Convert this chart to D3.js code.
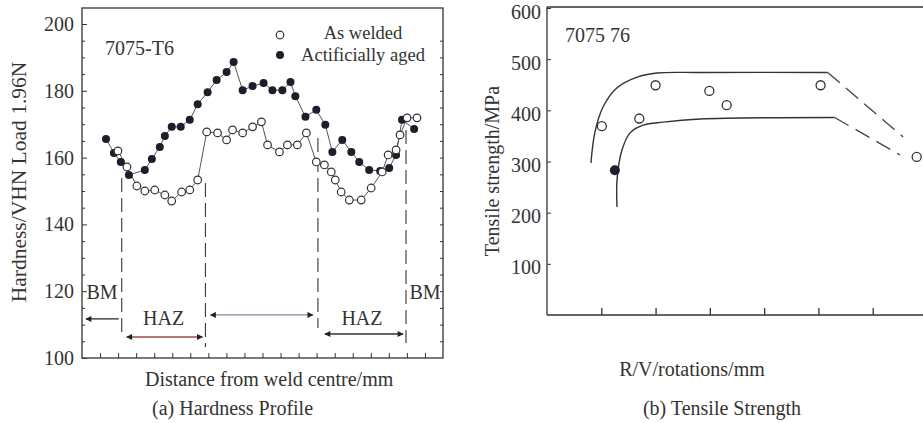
<!DOCTYPE html>
<html>
<head>
<meta charset="utf-8">
<script src="https://cdn.jsdelivr.net/npm/d3@7"></script>
<style>
  html, body { margin: 0; padding: 0; background: #fff; }
  svg { display: block; }
  text { font-family: "Liberation Serif", "DejaVu Serif", serif; fill: #333; }
</style>
</head>
<body>
<svg id="chart" width="923" height="423"></svg>
<script>
// ---------- (a) Hardness profile data ----------
const agedX   = [1.33,1.77,2.15,2.60,3.48,3.87,4.31,4.59,4.97,5.47,5.97,6.41,6.96,7.46,8.01,8.40,8.90,9.45,10.06,10.55,11.10,11.55,11.82,12.38,12.98,13.48,13.87,14.42,14.92,15.36,15.91,16.52,17.02,17.40,17.73,18.40];
const agedY   = [165.6,161.4,158.7,154.8,156.3,159.6,163.2,166.5,169.2,169.2,171.3,176.0,179.6,183.2,185.6,188.6,180.2,181.4,182.3,180.2,180.2,182.6,178.4,172.2,174.3,169.8,161.7,165.3,161.7,158.7,156.3,156.0,156.9,160.8,171.3,168.6];
const weldedX = [1.99,2.49,3.04,3.48,4.03,4.59,4.97,5.52,5.97,6.41,6.91,7.51,8.01,8.34,8.90,9.45,9.94,10.28,10.94,11.38,11.93,12.43,12.98,13.43,13.81,14.03,14.36,14.81,15.47,16.02,16.63,16.96,17.40,17.62,18.01,18.56];
const weldedY = [162.0,157.2,151.5,150.0,150.3,148.8,147.0,149.7,150.3,153.3,167.7,167.4,165.3,168.3,167.4,169.2,170.7,163.8,161.7,163.8,163.8,167.4,158.7,157.8,155.7,153.3,149.7,147.3,147.3,150.9,155.7,160.8,162.3,166.8,171.9,171.9];
const hardTicks = [100,120,140,160,180,200];
const zoneX     = [2.2, 6.84, 13.07, 17.95];          // dashed zone boundaries
const zoneTop   = [153.9, 152.4, 165.9, 168.3];
const zoneBot   = [106.9, 103.3, 109.0, 104.5];
const legendLabels = ["As welded", "Actificially aged"];

// ---------- (b) Tensile strength data ----------
const upperX = [0.81,0.88,1.03,1.29,1.66,2.03,2.82,5.17];
const upperY = [297,356,406,444,465,473,474,474];
const upperDashX = [5.17,6.56], upperDashY = [474,348];
const lowerX = [1.29,1.29,1.38,1.53,1.77,2.14,2.82,5.30];
const lowerY = [211,264,322,356,371,377,383,386];
const lowerDashX = [5.30,6.50], lowerDashY = [386,313];
const openPtX = [1.01,1.70,2.00,2.99,3.31,5.04,6.81];
const openPtY = [369,384,449,438,410,449,309];
const solidPtX = [1.25], solidPtY = [283];
const tensTicks = [100,200,300,400,500,600];

const svg = d3.select("#chart");
const ink = "#333";

// ================= Chart (a) =================
const xA = d3.scaleLinear().domain([0,20]).range([82,443]);
const yA = d3.scaleLinear().domain([100,200]).range([358,24]);

const gA = svg.append("g");
gA.append("rect").attr("x",xA(0)).attr("y",8).attr("width",xA(20)-xA(0)).attr("height",yA(100)-8)
  .attr("fill","none").attr("stroke",ink).attr("stroke-width",1.3);

const yAxisA = gA.append("g").attr("transform",`translate(${xA(0)},0)`)
  .call(d3.axisLeft(yA).tickValues(hardTicks).tickSize(-5).tickSizeOuter(0).tickPadding(8));
yAxisA.select(".domain").remove();
yAxisA.selectAll("text").style("font-size","20px").style("font-family","Liberation Serif").attr("fill","#333");
yAxisA.selectAll("line").attr("stroke",ink);
const minorA = d3.range(105,200,5).filter(v=>v%20!==0);
gA.append("g").attr("transform",`translate(${xA(0)},0)`)
  .call(d3.axisLeft(yA).tickValues(minorA).tickSize(-3).tickFormat(""))
  .call(g=>g.select(".domain").remove()).selectAll("line").attr("stroke",ink);
gA.append("g").attr("transform",`translate(${xA(20)},0)`)
  .call(d3.axisRight(yA).tickValues(d3.range(105,200,5)).tickSize(-3).tickFormat(""))
  .call(g=>g.select(".domain").remove()).selectAll("line").attr("stroke",ink);
gA.append("g").attr("transform",`translate(0,${yA(100)})`)
  .call(d3.axisBottom(xA).tickValues(d3.range(1,20)).tickSize(-5).tickFormat(""))
  .call(g=>g.select(".domain").remove()).selectAll("line").attr("stroke",ink);

gA.append("text").attr("transform",`translate(26,182) rotate(-90)`).attr("text-anchor","middle")
  .style("font-size","21.5px").text("Hardness/VHN Load 1.96N");
gA.append("text").attr("x",145).attr("y",386).style("font-size","20px").text("Distance from weld centre/mm");
gA.append("text").attr("x",152).attr("y",415).style("font-size","20px").text("(a) Hardness Profile");
gA.append("text").attr("x",105).attr("y",55).style("font-size","20px").text("7075-T6");

zoneX.forEach((z,i)=>{
  gA.append("line").attr("x1",xA(z)).attr("x2",xA(z)).attr("y1",yA(zoneTop[i])).attr("y2",yA(zoneBot[i]))
    .attr("stroke","#444").attr("stroke-width",1.2).attr("stroke-dasharray","14,6");
});

const defs = svg.append("defs");
defs.append("marker").attr("id","ah").attr("viewBox","0 0 10 10").attr("refX",9).attr("refY",5)
  .attr("markerWidth",8).attr("markerHeight",6).attr("markerUnits","userSpaceOnUse").attr("orient","auto-start-reverse")
  .append("path").attr("d","M0,0 L10,5 L0,10 Z").attr("fill","#222");
function arrow(x1,x2,y,color,both){
  const l = gA.append("line").attr("x1",x1).attr("x2",x2).attr("y1",y).attr("y2",y)
    .attr("stroke",color).attr("stroke-width",1.4).attr("marker-end","url(#ah)");
  if(both) l.attr("marker-start","url(#ah)");
}
arrow(xA(zoneX[0])-3, xA(0)+4, yA(111.7), "#222", false);
arrow(xA(zoneX[0])+5, xA(zoneX[1])-3, yA(106.3), "#9a4a48", true);
arrow(xA(zoneX[1])+5, xA(zoneX[2])-5, yA(112.9), "#8a84a0", true);
arrow(xA(zoneX[2])+7, xA(zoneX[3])-3, yA(107.2), "#333", true);
gA.append("text").attr("x",102).attr("y",299).attr("text-anchor","middle").style("font-size","20px").text("BM");
gA.append("text").attr("x",425).attr("y",299).attr("text-anchor","middle").style("font-size","20px").text("BM");
gA.append("text").attr("x",(xA(zoneX[0])+xA(zoneX[1]))/2).attr("y",325).attr("text-anchor","middle").style("font-size","20px").text("HAZ");
gA.append("text").attr("x",(xA(zoneX[2])+xA(zoneX[3]))/2).attr("y",325).attr("text-anchor","middle").style("font-size","20px").text("HAZ");

const lineA = d3.line().x(d=>xA(d[0])).y(d=>yA(d[1]));
const aged = agedX.map((x,i)=>[x,agedY[i]]);
const welded = weldedX.map((x,i)=>[x,weldedY[i]]);
gA.append("path").datum(aged).attr("d",lineA).attr("fill","none").attr("stroke","#555").attr("stroke-width",1);
gA.append("path").datum(welded).attr("d",lineA).attr("fill","none").attr("stroke","#555").attr("stroke-width",1);
gA.selectAll(".ag").data(aged).enter().append("circle").attr("cx",d=>xA(d[0])).attr("cy",d=>yA(d[1]))
  .attr("r",4).attr("fill","#1d1d2b");
gA.selectAll(".wd").data(welded).enter().append("circle").attr("cx",d=>xA(d[0])).attr("cy",d=>yA(d[1]))
  .attr("r",3.8).attr("fill","#fff").attr("stroke","#333").attr("stroke-width",1.2);

// legend
gA.append("circle").attr("cx",280).attr("cy",35).attr("r",3.8).attr("fill","#fff").attr("stroke","#333").attr("stroke-width",1.2);
gA.append("circle").attr("cx",280).attr("cy",55).attr("r",4).attr("fill","#1d1d2b");
gA.append("text").attr("x",363).attr("y",39).attr("text-anchor","middle").style("font-size","18.5px").text(legendLabels[0]);
gA.append("text").attr("x",363).attr("y",61).attr("text-anchor","middle").style("font-size","18.5px").text(legendLabels[1]);

// ================= Chart (b) =================
const xB = d3.scaleLinear().domain([0,7]).range([547,927]);
const yB = d3.scaleLinear().domain([0,600]).range([315,8]);
const gB = svg.append("g");
gB.append("line").attr("x1",xB(0)).attr("x2",xB(0)).attr("y1",yB(600)-1).attr("y2",yB(0)).attr("stroke",ink).attr("stroke-width",1.3);
gB.append("line").attr("x1",xB(0)).attr("x2",xB(7)).attr("y1",yB(0)).attr("y2",yB(0)).attr("stroke",ink).attr("stroke-width",1.3);
gB.append("line").attr("x1",xB(0)).attr("x2",xB(7)).attr("y1",yB(600)-1).attr("y2",yB(600)-1).attr("stroke",ink).attr("stroke-width",1.3);
const yAxisB = gB.append("g").attr("transform",`translate(${xB(0)},0)`)
  .call(d3.axisLeft(yB).tickValues(tensTicks).tickSize(-4).tickPadding(6));
yAxisB.select(".domain").remove();
yAxisB.selectAll("line").attr("stroke",ink);
yAxisB.selectAll("text").style("font-size","20px").style("font-family","Liberation Serif").attr("fill","#333").attr("dy","0.5em");
gB.append("g").attr("transform",`translate(0,${yB(0)})`)
  .call(d3.axisBottom(xB).tickValues(d3.range(1,7)).tickSize(-7).tickFormat(""))
  .call(g=>g.select(".domain").remove()).selectAll("line").attr("stroke",ink).attr("stroke-width",1.3);

gB.append("text").attr("transform",`translate(499,171) rotate(-90)`).attr("text-anchor","middle")
  .style("font-size","20px").text("Tensile strength/MPa");
gB.append("text").attr("x",692).attr("y",376).attr("text-anchor","middle").style("font-size","20px").text("R/V/rotations/mm");
gB.append("text").attr("x",722).attr("y",415).attr("text-anchor","middle").style("font-size","20px").text("(b) Tensile Strength");
gB.append("text").attr("x",565).attr("y",42).style("font-size","20px").text("7075 76");

const lineB = d3.line().x(d=>xB(d[0])).y(d=>yB(d[1])).curve(d3.curveCatmullRom.alpha(0.5));
const lineStraight = d3.line().x(d=>xB(d[0])).y(d=>yB(d[1]));
gB.append("path").datum(upperX.map((x,i)=>[x,upperY[i]])).attr("d",lineB).attr("fill","none").attr("stroke","#333").attr("stroke-width",1.4);
gB.append("path").datum(lowerX.map((x,i)=>[x,lowerY[i]])).attr("d",lineB).attr("fill","none").attr("stroke","#333").attr("stroke-width",1.4);
gB.append("path").datum(upperDashX.map((x,i)=>[x,upperDashY[i]])).attr("d",lineStraight).attr("fill","none").attr("stroke","#444").attr("stroke-width",1.3).attr("stroke-dasharray","16,8");
gB.append("path").datum(lowerDashX.map((x,i)=>[x,lowerDashY[i]])).attr("d",lineStraight).attr("fill","none").attr("stroke","#444").attr("stroke-width",1.3).attr("stroke-dasharray","16,8");
gB.selectAll(".op").data(openPtX.map((x,i)=>[x,openPtY[i]])).enter().append("circle")
  .attr("cx",d=>xB(d[0])).attr("cy",d=>yB(d[1])).attr("r",4.5).attr("fill","#fff").attr("stroke","#333").attr("stroke-width",1.3);
gB.selectAll(".sp").data(solidPtX.map((x,i)=>[x,solidPtY[i]])).enter().append("circle")
  .attr("cx",d=>xB(d[0])).attr("cy",d=>yB(d[1])).attr("r",5).attr("fill","#1d1d2b");
</script>
</body>
</html>
